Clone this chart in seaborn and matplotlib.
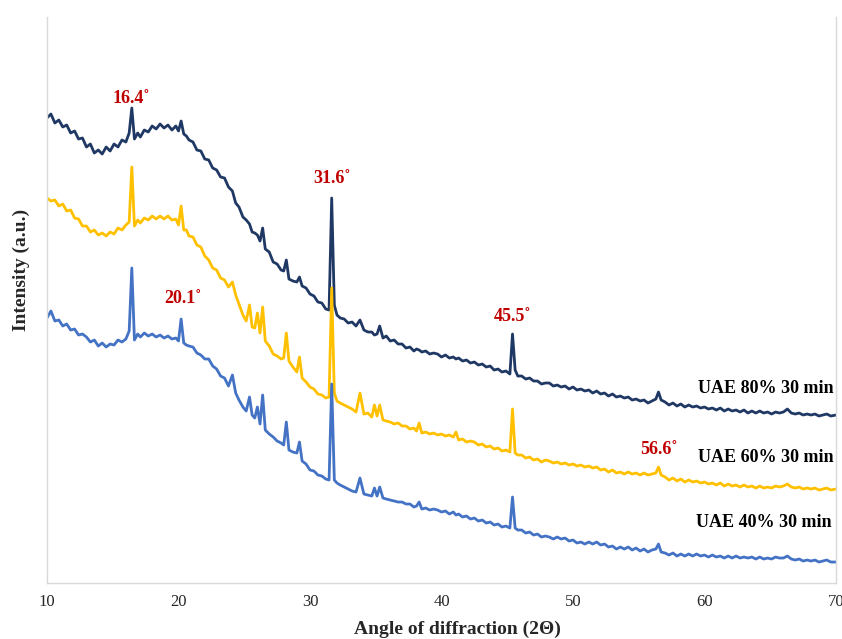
import matplotlib
matplotlib.use("Agg")
from matplotlib import pyplot as plt
import seaborn as sns
import pandas as pd

# diffraction angle (2 theta), shared by all three scans
angle = [
    10.0, 10.3, 10.6, 10.9, 11.2, 11.5, 11.8, 12.1, 12.4, 12.7,
    13.0, 13.3, 13.6, 13.9, 14.2, 14.5, 14.8, 15.1, 15.4, 15.7,
    16.0, 16.25, 16.45, 16.65, 16.9, 17.1, 17.4, 17.7, 18.0, 18.3,
    18.6, 18.9, 19.2, 19.5, 19.8, 20.0, 20.2, 20.4, 20.6, 20.8,
    21.1, 21.4, 21.7, 22.0, 22.3, 22.6, 22.9, 23.2, 23.5, 23.8,
    24.1, 24.35, 24.6, 24.9, 25.15, 25.4, 25.6, 25.8, 26.0, 26.2,
    26.4, 26.6, 26.9, 27.2, 27.5, 27.8, 28.0, 28.2, 28.4, 28.7,
    29.0, 29.2, 29.4, 29.7, 30.0, 30.3, 30.6, 30.9, 31.2, 31.45,
    31.65, 31.85, 32.05, 32.3, 32.6, 32.9, 33.2, 33.5, 33.8, 34.1,
    34.4, 34.7, 34.9, 35.1, 35.3, 35.55, 35.8, 36.1, 36.4, 36.7,
    37.0, 37.3, 37.6, 37.9, 38.1, 38.3, 38.5, 38.8, 39.1, 39.4,
    39.7, 40.0, 40.3, 40.6, 40.9, 41.1, 41.3, 41.6, 41.9, 42.2,
    42.5, 42.8, 43.1, 43.4, 43.7, 44.0, 44.3, 44.6, 44.9, 45.2,
    45.4, 45.6, 45.8, 46.1, 46.4, 46.7, 47.0, 47.3, 47.6, 47.9,
    48.2, 48.5, 48.8, 49.1, 49.4, 49.7, 50.0, 50.3, 50.6, 50.9,
    51.2, 51.5, 51.8, 52.1, 52.4, 52.7, 53.0, 53.3, 53.6, 53.9,
    54.2, 54.5, 54.8, 55.1, 55.4, 55.7, 56.0, 56.3, 56.5, 56.7,
    57.0, 57.3, 57.6, 57.9, 58.2, 58.5, 58.8, 59.1, 59.4, 59.7,
    60.0, 60.3, 60.6, 60.9, 61.2, 61.5, 61.8, 62.1, 62.4, 62.7,
    63.0, 63.3, 63.6, 63.9, 64.2, 64.5, 64.8, 65.1, 65.4, 65.7,
    66.0, 66.3, 66.6, 66.9, 67.2, 67.5, 67.8, 68.1, 68.4, 68.7,
    69.0, 69.3, 69.6, 70.0,
]

uae_80 = [
    465, 469, 460, 463, 456, 458, 450, 452, 444, 445,
    436, 439, 430, 433, 429, 436, 432, 439, 436, 443,
    441, 450, 475, 444, 450, 446, 453, 451, 457, 454,
    459, 455, 458, 453, 457, 452, 462, 449, 447, 443,
    441, 433, 432, 424, 423, 415, 413, 406, 405, 396,
    392, 380, 376, 366, 363, 359, 351, 350, 348, 342,
    355, 334, 331, 321, 319, 313, 312, 323, 304, 302,
    301, 306, 297, 295, 289, 287, 281, 280, 274, 273,
    385, 278, 268, 265, 264, 260, 261, 257, 263, 253,
    251, 251, 248, 249, 257, 245, 247, 242, 243, 239,
    239, 235, 236, 232, 234, 233, 231, 232, 229, 230,
    229, 226, 228, 225, 226, 224, 225, 222, 223, 220,
    221, 218, 219, 216, 217, 213, 214, 211, 212, 209,
    249, 213, 207, 207, 204, 205, 202, 202, 199, 200,
    200, 197, 198, 196, 197, 194, 196, 193, 194, 192,
    193, 190, 192, 189, 190, 187, 189, 186, 187, 185,
    186, 183, 184, 182, 183, 180, 182, 184, 191, 183,
    181, 178, 180, 177, 179, 176, 178, 176, 177, 175,
    176, 174, 175, 173, 175, 172, 174, 172, 173, 171,
    173, 170, 172, 170, 172, 170, 171, 169, 171, 170,
    171, 174, 170, 169, 170, 168, 169, 168, 169, 167,
    168, 169, 167, 168,
]

uae_60 = [
    385, 382, 383, 377, 379, 372, 373, 365, 364, 357,
    357, 351, 353, 348, 350, 347, 351, 349, 355, 353,
    358, 361, 416, 357, 363, 360, 365, 363, 367, 364,
    367, 364, 367, 363, 364, 358, 377, 353, 353, 347,
    346, 338, 336, 327, 323, 315, 313, 305, 303, 296,
    301, 288, 279, 268, 262, 278, 256, 255, 270, 250,
    276, 242, 237, 229, 227, 224, 225, 250, 222, 216,
    211, 226, 205, 201, 196, 194, 189, 188, 185, 186,
    295, 190, 182, 180, 178, 176, 174, 171, 190, 169,
    170, 166, 178, 167, 178, 163, 162, 161, 159, 160,
    157, 157, 154, 155, 152, 160, 150, 151, 149, 150,
    148, 149, 147, 148, 146, 151, 143, 144, 141, 142,
    141, 138, 139, 136, 137, 134, 135, 132, 133, 131,
    174, 130, 128, 128, 125, 126, 123, 124, 121, 123,
    122, 120, 121, 119, 120, 118, 119, 117, 118, 116,
    117, 115, 116, 113, 114, 111, 113, 110, 111, 109,
    111, 109, 110, 108, 110, 108, 109, 110, 116, 108,
    106, 103, 105, 102, 104, 101, 103, 101, 102, 100,
    101, 99, 100, 98, 100, 97, 99, 97, 98, 96,
    98, 96, 97, 95, 97, 95, 96, 95, 97, 96,
    97, 99, 96, 95, 96, 94, 95, 94, 95, 93,
    94, 95, 93, 94,
]

uae_40 = [
    265, 272, 262, 263, 257, 259, 253, 254, 248, 249,
    246, 241, 243, 237, 240, 236, 239, 238, 243, 241,
    244, 252, 315, 243, 249, 246, 250, 247, 249, 246,
    248, 245, 247, 244, 245, 242, 264, 240, 238, 237,
    236, 230, 228, 224, 224, 217, 214, 207, 205, 197,
    208, 190, 183, 176, 172, 186, 168, 165, 176, 159,
    188, 153, 149, 146, 142, 140, 138, 161, 133, 131,
    130, 141, 122, 119, 113, 112, 108, 107, 104, 103,
    199, 103, 100, 98, 96, 94, 92, 91, 105, 89,
    88, 87, 95, 87, 96, 85, 84, 83, 82, 81,
    81, 79, 79, 76, 77, 81, 74, 75, 73, 74,
    73, 71, 72, 69, 71, 68, 69, 66, 67, 64,
    65, 62, 63, 60, 61, 58, 59, 56, 57, 55,
    86, 55, 53, 53, 50, 51, 48, 49, 46, 47,
    46, 44, 46, 44, 45, 42, 43, 40, 41, 39,
    41, 39, 41, 38, 39, 36, 37, 34, 36, 34,
    36, 33, 35, 32, 34, 31, 33, 34, 39, 31,
    30, 28, 30, 27, 29, 27, 29, 27, 29, 27,
    28, 26, 28, 26, 27, 25, 27, 25, 27, 25,
    26, 25, 26, 24, 26, 24, 25, 24, 26, 25,
    25, 27, 24, 23, 24, 22, 23, 22, 23, 21,
    22, 23, 21, 21,
]

series_names = ["UAE 80% 30 min", "UAE 60% 30 min", "UAE 40% 30 min"]
series_colors = ["#203864", "#ffc000", "#4472c4"]

# peak labels: text, x, y
peak_text = ["16.4˚", "20.1˚", "31.6˚", "45.5˚", "56.6˚"]
peak_x = [16.4, 20.35, 31.65, 45.4, 56.5]
peak_y = [485, 285, 405, 267, 134]

# series labels at right end
name_x = [69.85, 69.85, 69.7]
name_y = [195, 126, 61]

frames = []
for name, vals in zip(series_names, [uae_80, uae_60, uae_40]):
    frames.append(pd.DataFrame({"angle": angle, "intensity": vals, "sample": name}))
df = pd.concat(frames, ignore_index=True)

sns.set_theme(style="white")
plt.rcParams["font.family"] = ["Liberation Serif", "DejaVu Serif"]

fig = plt.figure(figsize=(8.42, 6.39), dpi=100)
ax = fig.add_axes([0.0558, 0.0876, 0.9371, 0.8858])

sns.lineplot(data=df, x="angle", y="intensity", hue="sample",
             palette=dict(zip(series_names, series_colors)),
             hue_order=series_names, sort=False, estimator=None,
             linewidth=2.0, legend=False, ax=ax)

for t, x, y in zip(peak_text, peak_x, peak_y):
    ax.text(x, y, t, color="#c00000", fontsize=13, fontweight="bold",
            ha="center", va="center")

for t, x, y in zip(series_names, name_x, name_y):
    ax.text(x, y, t, color="black", fontsize=13, fontweight="bold",
            ha="right", va="center")

ax.set_xlim(10, 70)
ax.set_ylim(0, 566)
ax.set_xticks([10, 20, 30, 40, 50, 60, 70])
ax.set_yticks([])
ax.tick_params(axis="x", length=0, pad=8, labelsize=12)

for side in ["left", "right", "bottom"]:
    ax.spines[side].set_color("#d9d9d9")
    ax.spines[side].set_linewidth(1.0)
ax.spines["top"].set_visible(False)

ax.set_xlabel("Angle of diffraction (2Θ)", fontsize=14, fontweight="bold")
ax.set_ylabel("Intensity (a.u.)", fontsize=14, fontweight="bold")
ax.xaxis.set_label_coords(0.52, -0.067)
ax.yaxis.set_label_coords(-0.022, 0.553)

plt.savefig("out.png", dpi=100)
